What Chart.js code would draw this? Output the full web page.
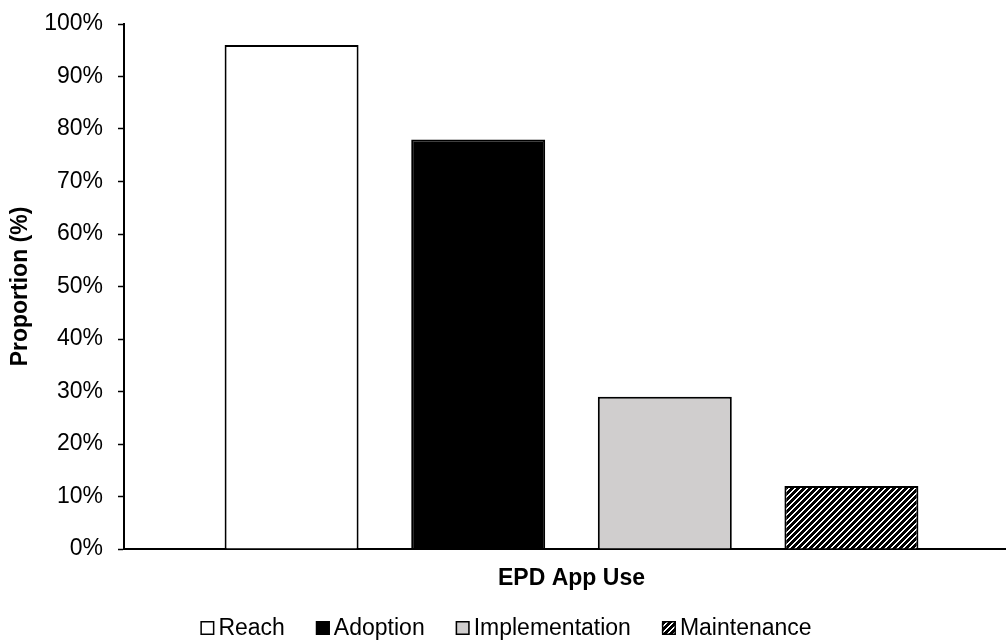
<!DOCTYPE html>
<html>
<head>
<meta charset="utf-8">
<script src="https://cdn.jsdelivr.net/npm/chart.js@4/dist/chart.umd.min.js"></script>
<style>
  html, body { margin: 0; padding: 0; background: #fff; overflow: hidden; }
  #wrap { width: 1020px; height: 644px; position: relative; }
</style>
</head>
<body>
<div id="wrap"><canvas id="c"></canvas></div>
<script>
// Chart data
const categories = ['EPD App Use'];
const seriesNames = ['Reach', 'Adoption', 'Implementation', 'Maintenance'];
const seriesValues = [[96], [78], [29], [12]];
const yTicks = [0, 10, 20, 30, 40, 50, 60, 70, 80, 90, 100];

const FONT = "'Liberation Sans', Arial, sans-serif";
const FS = 23;

// Diagonal black/white stripe fill for the last series
function stripePattern() {
  const s = 6;
  const tile = document.createElement('canvas');
  tile.width = s; tile.height = s;
  const tctx = tile.getContext('2d');
  const img = tctx.createImageData(s, s);
  for (let y = 0; y < s; y++) {
    for (let x = 0; x < s; x++) {
      const black = ((x + y) % s) < 4;
      const i = (y * s + x) * 4;
      const v = black ? 0 : 255;
      img.data[i] = v; img.data[i + 1] = v; img.data[i + 2] = v; img.data[i + 3] = 255;
    }
  }
  tctx.putImageData(img, 0, 0);
  return document.getElementById('c').getContext('2d').createPattern(tile, 'repeat');
}

const hatch = stripePattern();
const fills = ['#ffffff', '#000000', '#d0cece', hatch];

const datasets = seriesNames.map((name, i) => ({
  label: name,
  data: seriesValues[i],
  backgroundColor: fills[i],
  borderColor: '#000000',
  borderWidth: 2,
  borderSkipped: 'start',
  categoryPercentage: 0.834,
  barPercentage: 0.718
}));

// Legend drawn in a single row under the x-axis title
const rowLegend = {
  id: 'rowLegend',
  afterDraw(chart) {
    const ctx = chart.ctx;
    const box = 14, gap = 4, itemGap = 31, baseY = 635, centerX = 506;
    ctx.save();
    ctx.font = FS + 'px ' + FONT;
    const items = chart.data.datasets.map(ds => ({
      label: ds.label, fill: ds.backgroundColor,
      w: box + gap + ctx.measureText(ds.label).width
    }));
    const total = items.reduce((a, it) => a + it.w, 0) + itemGap * (items.length - 1);
    let x = centerX - total / 2;
    items.forEach(it => {
      ctx.fillStyle = it.fill;
      ctx.fillRect(x, baseY - box, box, box);
      ctx.lineWidth = 1.5;
      ctx.strokeStyle = '#000';
      ctx.strokeRect(x + 0.75, baseY - box + 0.75, box - 1.5, box - 1.5);
      ctx.fillStyle = '#000';
      ctx.textBaseline = 'alphabetic';
      ctx.textAlign = 'left';
      ctx.fillText(it.label, x + box + gap, baseY);
      x += it.w + itemGap;
    });
    ctx.restore();
  }
};

new Chart(document.getElementById('c'), {
  type: 'bar',
  data: { labels: categories, datasets },
  options: {
    responsive: true,
    maintainAspectRatio: false,
    animation: false,
    events: [],
    layout: { padding: { top: 24, left: 0, right: 1, bottom: 0 } },
    plugins: { legend: { display: false }, tooltip: { enabled: false } },
    scales: {
      x: {
        type: 'category',
        z: 1,
        grid: { display: false },
        border: { display: true, color: '#000', width: 2 },
        ticks: { display: false },
        title: {
          display: true,
          text: 'EPD App Use',
          color: '#000',
          font: { family: FONT, size: FS, weight: 'bold' },
          padding: { top: 0, bottom: 52 }
        },
        afterFit(scale) { scale.height = 95; }
      },
      y: {
        min: 0,
        max: 100,
        afterBuildTicks(scale) { scale.ticks = yTicks.map(v => ({ value: v })); },
        grid: {
          display: true,
          drawOnChartArea: false,
          drawTicks: true,
          tickLength: 6,
          tickWidth: 1.5,
          tickColor: '#000'
        },
        border: { display: true, color: '#000', width: 2 },
        ticks: {
          color: '#000',
          padding: 15,
          font: { family: FONT, size: FS },
          callback: v => v + '%'
        },
        title: {
          display: true,
          text: 'Proportion (%)',
          color: '#000',
          font: { family: FONT, size: FS, weight: 'bold' },
          padding: { top: 7, bottom: 0 }
        },
        afterFit(scale) {
          scale.width = 124;
          scale.paddingTop = 0;
          scale.paddingBottom = 0;
        }
      }
    }
  },
  plugins: [rowLegend]
});
</script>
</body>
</html>
